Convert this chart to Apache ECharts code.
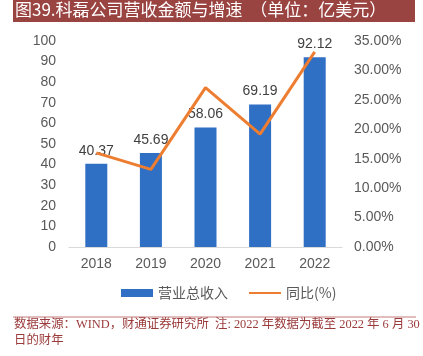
<!DOCTYPE html>
<html><head><meta charset="utf-8">
<script src="https://cdn.jsdelivr.net/npm/echarts@6/dist/echarts.min.js"></script>
<style>html,body{margin:0;padding:0;background:#fff}#c{width:423px;height:356px}</style>
</head><body><div id="c"></div>
<script>
var categories = ['2018','2019','2020','2021','2022'];
var revenue = [40.37, 45.69, 58.06, 69.19, 92.12];
var growth = [16.0, 13.18, 27.07, 19.17, 33.14];
var leftTicks = [0,10,20,30,40,50,60,70,80,90,100];
var rightTicks = [0,5,10,15,20,25,30,35];

var chart = echarts.init(document.getElementById('c'));
var latin = 'Liberation Sans, Arial, sans-serif';
chart.setOption({
  animation: false,
  graphic: [
    {type:'rect', shape:{x:13,y:0,width:402,height:22}, style:{fill:'#9A4442'}},
    {type:'text', left:15, top:1, style:{text:'图39.科磊公司营收金额与增速  （单位：亿美元）', fill:'#fff', font:'17px "Noto Sans CJK SC"'}},
    {type:'line', shape:{x1:13,y1:317,x2:416,y2:317}, style:{stroke:'#C27C7A', lineWidth:1}},
    {type:'text', left:14, top:319, style:{text:'数据来源：WIND，财通证券研究所  注: 2022 年数据为截至 2022 年 6 月 30', fill:'#9B3A3A', font:'12.4px "Liberation Serif", "Noto Sans CJK SC"'}},
    {type:'text', left:14, top:335, style:{text:'日的财年', fill:'#9B3A3A', font:'12.4px "Liberation Serif", "Noto Sans CJK SC"'}}
  ],
  legend: {
    bottom: 51, left: 116, itemGap: 20, itemWidth: 32, itemHeight: 8,
    textStyle: {fontSize: 14, color: '#595959', fontFamily: 'Noto Sans CJK SC'},
    data: [
      {name:'营业总收入', icon:'rect'},
      {name:'同比(%)', itemStyle:{opacity:0}}
    ]
  },
  grid: {left: 69, right: 81, top: 41, bottom: 109},
  xAxis: {
    type: 'category', data: categories,
    axisLine: {lineStyle: {color: '#D9D9D9', width: 1}},
    axisTick: {show: false},
    axisLabel: {color: '#595959', fontSize: 14, fontFamily: latin, margin: 10}
  },
  yAxis: [
    {type:'value', min:0, max:100, interval:10, splitLine:{show:false},
     axisLine:{show:false}, axisTick:{show:false},
     axisLabel:{color:'#595959', fontSize:14, fontFamily:latin, margin:13}},
    {type:'value', min:0, max:35, interval:5, splitLine:{show:false},
     axisLine:{show:false}, axisTick:{show:false},
     axisLabel:{color:'#595959', fontSize:14, fontFamily:latin, margin:12,
       formatter: function(v){return v.toFixed(2)+'%';}}}
  ],
  series: [
    {name:'营业总收入', type:'bar', data: revenue, barWidth: 22, yAxisIndex: 0,
     itemStyle:{color:'#2F6FC4'},
     label:{show:true, position:'top', distance:6, color:'#404040', fontSize:14, fontFamily:latin}},
    {name:'同比(%)', type:'line', data: growth, yAxisIndex: 1, symbol:'none',
     lineStyle:{color:'#ED7D31', width:3}, itemStyle:{color:'#ED7D31'}}
  ]
});
</script></body></html>
